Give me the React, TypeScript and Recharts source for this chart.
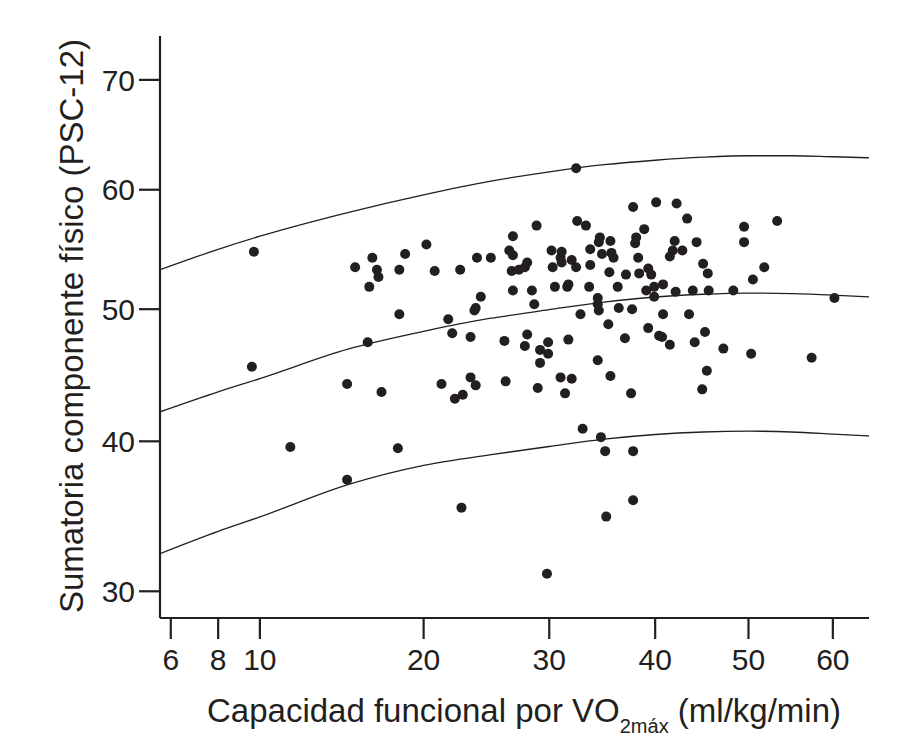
import React from 'react';
import { ComposedChart, XAxis, YAxis, Scatter, Line, Label } from 'recharts';

// Capacidad funcional por VO2max (ml/kg/min) of each subject
const capacidad = [
  9.7, 15.4, 16.5, 16.8, 16.9, 16.3, 18.7, 18.3, 20.2, 20.8, 22.7, 24.0, 25.1, 18.3, 24.3,
  23.9, 23.8, 21.8, 22.1, 23.5, 16.2, 9.6, 14.9, 17.1, 21.3, 23.5, 23.9, 22.3, 22.9, 11.6,
  18.2, 14.9, 22.8, 26.9, 28.9, 32.5, 33.3, 37.8, 40.1, 42.2, 38.9, 26.6, 26.9, 30.2, 31.1,
  31.0, 31.1, 33.7, 34.6, 34.5, 35.6, 34.8, 35.7, 35.9, 38.1, 38.0, 38.3, 42.0, 41.8, 41.5,
  26.8, 27.4, 27.9, 28.1, 30.3, 32.0, 32.4, 33.7, 35.5, 37.1, 38.4, 39.3, 39.6, 26.9, 28.5,
  28.7, 30.5, 31.6, 31.7, 33.6, 36.3, 39.1, 39.9, 40.8, 39.9, 42.1, 34.4, 34.4, 34.5, 32.8,
  36.4, 37.7, 40.8, 35.4, 39.3, 40.4, 40.7, 41.5, 26.2, 28.1, 27.9, 29.9, 29.2, 29.9, 29.2,
  31.7, 37.0, 34.4, 26.3, 29.0, 31.0, 32.0, 31.4, 35.6, 37.6, 32.4, 43.3, 49.5, 53.3, 49.5,
  42.8, 44.3, 45.0, 45.5, 51.8, 50.5, 43.9, 45.6, 48.3, 60.2, 43.5, 45.2, 44.1, 47.2, 50.3,
  57.4, 45.4, 44.9, 33.0, 34.7, 35.1, 37.8, 37.8, 35.2, 29.8,
];

// Sumatoria componente físico (PSC-12) of each subject
const sumatoria = [
  54.7, 53.4, 54.2, 53.2, 52.6, 51.8, 54.5, 53.2, 55.3, 53.1, 53.2, 54.2, 54.2, 49.6, 51.0,
  50.1, 49.9, 49.2, 48.1, 47.8, 47.4, 45.5, 44.2, 43.6, 44.2, 44.7, 44.1, 43.1, 43.4, 39.6,
  39.5, 37.3, 35.4, 56.0, 56.9, 57.3, 56.9, 58.5, 58.9, 58.8, 56.6, 54.8, 54.4, 54.8, 54.7,
  54.2, 53.8, 54.9, 55.9, 55.5, 55.6, 54.5, 54.6, 54.2, 55.9, 55.4, 54.2, 55.6, 54.8, 54.3,
  53.1, 53.2, 53.4, 53.8, 53.4, 54.0, 53.4, 53.6, 53.0, 52.8, 52.9, 53.3, 52.8, 51.5, 51.5,
  50.4, 51.8, 51.8, 52.0, 51.8, 51.8, 51.5, 51.8, 52.0, 51.0, 51.4, 50.9, 50.4, 49.9, 49.6,
  50.1, 50.0, 49.6, 48.8, 48.5, 47.9, 47.8, 47.2, 47.5, 48.0, 47.1, 47.4, 46.8, 46.5, 45.8,
  47.6, 47.7, 46.0, 44.4, 43.9, 44.7, 44.6, 43.5, 44.8, 43.5, 61.9, 57.5, 56.8, 57.3, 55.5,
  54.8, 55.5, 53.7, 52.9, 53.4, 52.4, 51.5, 51.5, 51.5, 50.9, 49.6, 48.2, 47.4, 46.9, 46.5,
  46.2, 45.2, 43.8, 40.9, 40.3, 39.3, 39.3, 35.9, 34.8, 31.1,
];

// Fitted curve and its bands
const curveX = [5.585, 8, 10, 15, 20, 25, 30, 35, 40, 45, 50, 55, 60, 64.565];
const upperY = [53.2, 54.9, 56.0, 58.04, 59.55, 60.73, 61.58, 62.21, 62.61, 62.88, 63.01, 63.01, 62.92, 62.83];
const middleY = [42.14, 43.62, 44.61, 46.88, 48.25, 49.26, 49.96, 50.57, 50.98, 51.2, 51.29, 51.25, 51.13, 50.98];
const lowerY = [32.38, 33.83, 34.78, 36.98, 38.3, 39.04, 39.63, 40.15, 40.49, 40.67, 40.73, 40.67, 40.52, 40.38];

const xTicks = [6, 8, 10, 20, 30, 40, 50, 60];
const yTicks = [30, 40, 50, 60, 70];

const points = capacidad.map((x, i) => ({ x, y: sumatoria[i] }));
const upperData = curveX.map((x, i) => ({ x, y: upperY[i] }));
const middleData = curveX.map((x, i) => ({ x, y: middleY[i] }));
const lowerData = curveX.map((x, i) => ({ x, y: lowerY[i] }));

const INK = '#231f20';
const FONT = '"Liberation Sans", Arial, Helvetica, sans-serif';

const renderXLabel = () => (
  <text x={516} y={714} textAnchor="middle" fontSize={33} fill={INK} fontFamily={FONT}>
    Capacidad funcional por VO
    <tspan fontSize={20} dy={11}>2máx</tspan>
    <tspan dy={-11}> (ml/kg/min)</tspan>
  </text>
);

const renderYLabel = () => (
  <text
    x={75}
    y={318}
    textAnchor="middle"
    fontSize={33}
    fill={INK}
    fontFamily={FONT}
    transform="rotate(-90, 75, 318)"
  >
    Sumatoria componente físico (PSC-12)
  </text>
);

const Dot = (props: any) => {
  const { cx, cy } = props;
  if (cx == null || cy == null) return null;
  return <circle cx={cx} cy={cy} r={5} fill={INK} />;
};

export default function App() {
  return (
    <div style={{ width: 896, height: 740, fontFamily: FONT, background: '#fff' }}>
      <ComposedChart
        width={896}
        height={740}
        margin={{ top: 28, right: 35, bottom: 30, left: 0 }}
      >
        <XAxis
          type="number"
          dataKey="x"
          scale="sqrt"
          domain={[5.585, 64.565]}
          allowDataOverflow
          ticks={xTicks}
          interval={0}
          height={100}
          tickSize={21}
          tickMargin={10}
          axisLine={{ stroke: INK, strokeWidth: 2.2 }}
          tickLine={{ stroke: INK, strokeWidth: 2.2 }}
          tick={{ fontSize: 30, fill: INK, fontFamily: FONT }}
          label={<Label content={renderXLabel} />}
        />
        <YAxis
          type="number"
          dataKey="y"
          scale="sqrt"
          domain={[28.37, 74.21]}
          allowDataOverflow
          ticks={yTicks}
          interval={0}
          width={152}
          tickSize={21}
          tickMargin={4}
          axisLine={{ stroke: INK, strokeWidth: 2.2 }}
          tickLine={{ stroke: INK, strokeWidth: 2.2 }}
          tick={{ fontSize: 30, fill: INK, fontFamily: FONT }}
          label={<Label content={renderYLabel} />}
        />
        <Line
          data={upperData}
          dataKey="y"
          type="monotone"
          dot={false}
          activeDot={false}
          stroke={INK}
          strokeWidth={1.3}
          isAnimationActive={false}
        />
        <Line
          data={middleData}
          dataKey="y"
          type="monotone"
          dot={false}
          activeDot={false}
          stroke={INK}
          strokeWidth={1.3}
          isAnimationActive={false}
        />
        <Line
          data={lowerData}
          dataKey="y"
          type="monotone"
          dot={false}
          activeDot={false}
          stroke={INK}
          strokeWidth={1.3}
          isAnimationActive={false}
        />
        <Scatter
          data={points}
          dataKey="y"
          fill={INK}
          shape={<Dot />}
          isAnimationActive={false}
        />
      </ComposedChart>
    </div>
  );
}
